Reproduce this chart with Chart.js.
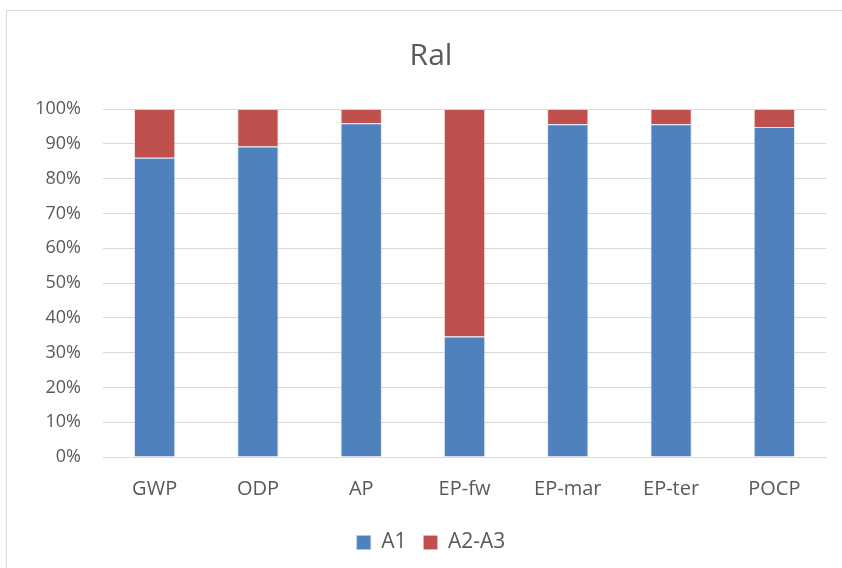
<!DOCTYPE html>
<html>
<head>
<meta charset="utf-8">
<script src="https://cdn.jsdelivr.net/npm/chart.js@4/dist/chart.umd.min.js"></script>
<style>
  html, body { margin: 0; padding: 0; background: #fff; overflow: hidden; }
  #frame { position: absolute; left: 6px; top: 10px; width: 860px; height: 580px; border: 1px solid #d9d9d9; box-sizing: border-box; }
  #box { position: absolute; left: 6px; top: 10px; width: 854px; height: 570px; }
</style>
</head>
<body>
<div id="frame"></div>
<div id="box"><canvas id="ralChart"></canvas></div>
<script>
/* chart data */
const categories = ['GWP', 'ODP', 'AP', 'EP-fw', 'EP-mar', 'EP-ter', 'POCP'];
const a1 = [86.0, 89.2, 95.9, 34.6, 95.6, 95.6, 94.8];
const a2a3 = [14.0, 10.8, 4.1, 65.4, 4.4, 4.4, 5.2];
const yTicks = [0, 10, 20, 30, 40, 50, 60, 70, 80, 90, 100];

const grey = '#595959';
const ctx = document.getElementById('ralChart').getContext('2d');

new Chart(ctx, {
  type: 'bar',
  data: {
    labels: categories,
    datasets: [
      { label: 'A1', data: a1, backgroundColor: '#4F81BD', borderColor: 'rgba(180,200,230,0.5)', borderWidth: 1 },
      { label: 'A2-A3', data: a2a3, backgroundColor: '#C0504D', borderColor: 'rgba(230,190,190,0.5)', borderWidth: 1 }
    ]
  },
  options: {
    responsive: true,
    maintainAspectRatio: false,
    animation: false,
    // equal side padding keeps title/legend centred on the whole frame
    layout: { padding: { left: 30, right: 34, top: 0, bottom: 17 } },
    datasets: { bar: { barPercentage: 0.4, categoryPercentage: 1 } },
    plugins: {
      title: {
        display: true,
        text: 'Ral',
        color: grey,
        font: { family: 'Open Sans', size: 30, weight: 'normal', lineHeight: 1.2 },
        padding: { top: 28, bottom: 35 }
      },
      legend: {
        position: 'bottom',
        labels: {
          color: grey,
          font: { family: 'Open Sans', size: 21 },
          boxWidth: 14,
          boxHeight: 14,
          padding: 17
        }
      },
      tooltip: { enabled: false }
    },
    scales: {
      x: {
        stacked: true,
        grid: { display: false, drawTicks: false },
        border: { color: '#d9d9d9' },
        ticks: { color: grey, font: { family: 'Open Sans', size: 20 }, padding: 20 },
        afterFit: s => { s.height = 58; }
      },
      y: {
        stacked: true,
        clip: false,
        min: 0,
        max: 100,
        afterBuildTicks: s => { s.ticks = yTicks.map(v => ({ value: v })); },
        grid: { color: '#d9d9d9', drawTicks: false },
        border: { display: false },
        ticks: {
          color: grey,
          font: { family: 'Open Sans', size: 18 },
          padding: 22,
          callback: v => v + '%'
        },
        afterFit: s => { s.width = 67; }
      }
    }
  }
});
</script>
</body>
</html>
